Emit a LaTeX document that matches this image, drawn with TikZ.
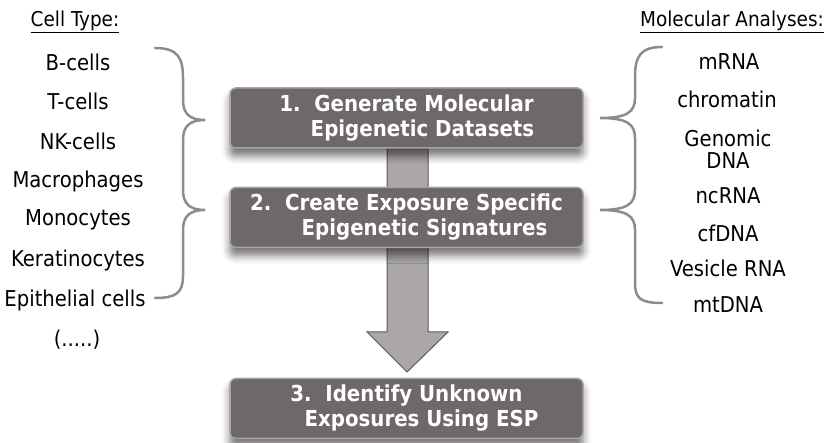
\documentclass[tikz,border=0pt]{standalone}
\usepackage{fontspec}
\setmainfont{DejaVu Sans Condensed}
\usetikzlibrary{shadows.blur}
\definecolor{boxgray}{HTML}{6E6868}
\definecolor{boxedge}{HTML}{A8A2A2}
\definecolor{bracegray}{HTML}{8C8C8C}
\definecolor{shaftgray}{HTML}{ABA7A7}
\begin{document}
\begin{tikzpicture}[x=1pt, y=-1pt]
        \tikzset{
           stepbox/.style={
                        rectangle,
                        rounded corners=6pt,
                        draw=boxedge,
                        line width=1.5pt,
                        fill=boxgray,
                        text=white,
                        font=\fontsize{22}{25}\selectfont\bfseries,
                        minimum width=353pt,
                        minimum height=60pt,
                        align=center,
                        blur shadow={shadow xshift=0pt, shadow yshift=-8pt,
                                     shadow blur radius=8pt, shadow opacity=55}
                       },
           item/.style={
                        font=\fontsize{21.8}{22}\selectfont,
                        text=black,
                        align=center
                       },
           head/.style={
                        font=\fontsize{20.5}{22}\selectfont,
                        text=black
                       },
           brace/.style={
                        draw=bracegray,
                        line width=2.5pt,
                        line cap=round
                       },
           bigarrow/.style={
                        fill=shaftgray,
                        draw=black!65,
                        line width=1pt
                       },
                 };
    \useasboundingbox (0,0) rectangle (828,443);
    %--------------------
        \node[head]    (cellHead)    at (75,22)   {\underline{Cell Type:}};
        \node[item]    (bCells)      at (78,62)   {B-cells};
        \node[item]    (tCells)      at (78,101)  {T-cells};
        \node[item]    (nkCells)     at (78,141)  {NK-cells};
        \node[item]    (macro)       at (78,181)  {Macrophages};
        \node[item]    (mono)        at (78,220)  {Monocytes};
        \node[item]    (kera)        at (78,260)  {Keratinocytes};
        \node[item]    (epith)       at (75,300)  {Epithelial cells};
        \node[item]    (more)        at (77,340)  {(.....)};

        \node[head]    (molHead)     at (732,22)  {\underline{Molecular Analyses:}};
        \node[item]    (mRNA)        at (729,62)  {mRNA};
        \node[item]    (chromatin)   at (727,99)  {chromatin};
        \node[item]    (gDNA)        at (728,149) {Genomic\\DNA};
        \node[item]    (ncRNA)       at (728,196) {ncRNA};
        \node[item]    (cfDNA)       at (728,233) {cfDNA};
        \node[item]    (vesRNA)      at (728,268) {Vesicle RNA};
        \node[item]    (mtDNA)       at (728,305) {mtDNA};
    %--------------------
        \coordinate (arrowTop) at (407,148);
        \coordinate (arrowTip) at (407,372);
        \path[bigarrow] ([xshift=-20pt]arrowTop) -- ([xshift=21pt]arrowTop)
              -- ([xshift=21pt]arrowTop |- 0,332) -- ([xshift=41pt]arrowTop |- 0,332)
              -- (arrowTip)
              -- ([xshift=-40pt]arrowTop |- 0,332) -- ([xshift=-20pt]arrowTop |- 0,332)
              -- cycle;

        \node[stepbox] (step1) at (406.5,118)
              {1.\ \ Generate Molecular\\\hspace*{32pt}Epigenetic Datasets};
        \node[stepbox] (step2) at (406.5,217.5)
              {2.\ \ Create Exposure Specific\\\hspace*{36pt}Epigenetic Signatures};
        \node[stepbox] (step3) at (406.5,408.5)
              {3.\ \ Identify Unknown\\\hspace*{30pt}Exposures Using ESP};
    %--------------------
        \draw[brace] (155,48) .. controls (178,48) and (183,58) .. (183,78)
              -- (183,100) .. controls (183,114) and (190,120) .. (205,120)
              .. controls (190,120) and (183,126) .. (183,140)
              -- (183,190) .. controls (183,204) and (190,210) .. (205,210)
              .. controls (190,210) and (183,216) .. (183,230)
              -- (183,276) .. controls (183,293) and (176,298) .. (155,298);

        \draw[brace] (662,47) .. controls (640,47) and (635,57) .. (635,77)
              -- (635,98) .. controls (635,112) and (627,118) .. (600,118)
              .. controls (627,118) and (635,124) .. (635,138)
              -- (635,190) .. controls (635,204) and (627,210) .. (600,210)
              .. controls (627,210) and (635,216) .. (635,230)
              -- (635,283) .. controls (635,298) and (640,303) .. (662,303);
    \end{tikzpicture}
\end{document}
